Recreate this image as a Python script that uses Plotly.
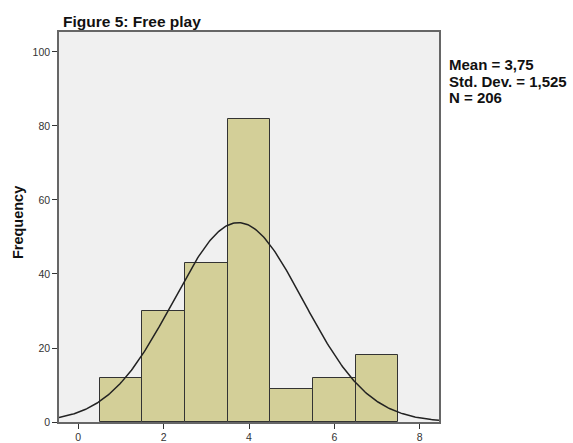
import numpy as np
import plotly.graph_objects as go

# Data
scores = [1, 2, 3, 4, 5, 6, 7]
frequency = [12, 30, 43, 82, 9, 12, 18]
MEAN = 3.75
SD = 1.525
N = 206
BIN_WIDTH = 1
x_ticks = [0, 2, 4, 6, 8]
y_ticks = [0, 20, 40, 60, 80, 100]

fig = go.Figure()
fig.add_trace(go.Bar(
    x=scores, y=frequency, width=BIN_WIDTH,
    marker=dict(color="#d3cf98", line=dict(color="#333333", width=1)),
    hoverinfo="x+y"
))

# fitted normal curve from the displayed statistics
xc = np.linspace(-0.45, 8.45, 300)
yc = N * BIN_WIDTH / (SD * np.sqrt(2 * np.pi)) * np.exp(-0.5 * ((xc - MEAN) / SD) ** 2)
fig.add_trace(go.Scatter(x=xc, y=yc, mode="lines",
                         line=dict(color="#222222", width=1.5), hoverinfo="skip"))

fig.update_layout(
    width=573, height=443,
    margin=dict(l=59, r=134, t=32, b=21, autoexpand=False),
    paper_bgcolor="white", plot_bgcolor="#f0f0f0",
    showlegend=False,
    font=dict(family="Liberation Sans, Arial, sans-serif", color="#222222"),
    bargap=0,
)
fig.update_xaxes(range=[-0.45, 8.45], tickvals=x_ticks, ticks="outside", ticklen=5,
                 tickcolor="#333", tickfont=dict(size=10.5, color="#333"),
                 showgrid=False, zeroline=False, showline=True, linecolor="#666",
                 linewidth=1.5, mirror=True, automargin=False)
fig.update_yaxes(range=[0, 105.4], tickvals=y_ticks, ticks="outside", ticklen=5,
                 tickcolor="#333", tickfont=dict(size=10.5, color="#333"),
                 showgrid=False, zeroline=False, showline=True, linecolor="#666",
                 linewidth=1.5, mirror=True, automargin=False)

fig.add_annotation(text="<b>Frequency</b>", xref="paper", yref="paper",
                   x=0, xshift=-41, y=0.51, textangle=-90, xanchor="center", yanchor="middle",
                   showarrow=False, font=dict(size=14.5, color="#111"))
fig.add_annotation(text="<b>Figure 5: Free play</b>", xref="paper", yref="paper",
                   x=0.006, y=1.028, xanchor="left", yanchor="middle",
                   showarrow=False, font=dict(size=15.5, color="#111"))

stats_lines = ["Mean = " + f"{MEAN:.2f}".replace(".", ","),
               "Std. Dev. = " + f"{SD:.3f}".replace(".", ","),
               f"N = {N}"]
stats_y = [0.9154, 0.8718, 0.8308]
for line, yy in zip(stats_lines, stats_y):
    fig.add_annotation(text=f"<b>{line}</b>", xref="paper", yref="paper",
                       x=1.0, xshift=8, y=yy, xanchor="left", yanchor="middle",
                       align="left", showarrow=False, font=dict(size=15, color="#111"))

fig.write_html("out.html", config={"displayModeBar": False},
               post_script="document.body.style.margin='0';document.body.style.overflow='hidden';")
